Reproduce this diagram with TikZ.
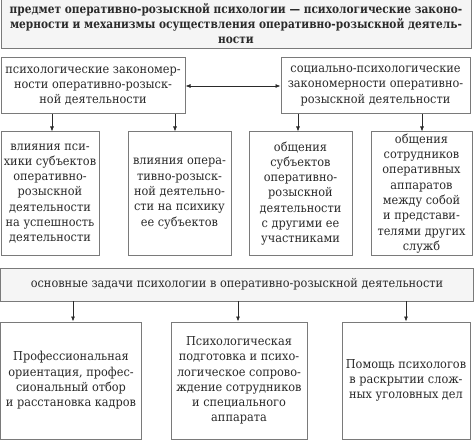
\documentclass[tikz,border=0pt]{standalone}
\usepackage{fontspec}
\setmainfont[FakeStretch=0.92, BoldFeatures={FakeStretch=0.86}]{DejaVu Serif}
\usetikzlibrary{arrows.meta}
\definecolor{boxline}{HTML}{7A7A7A}
\definecolor{txt}{HTML}{2A2A2A}
\definecolor{lightfill}{HTML}{F5F5F5}
\tikzset{
  box/.style={draw=boxline, line width=1pt, fill=white, align=center, inner sep=0pt,
    text=txt, font=\fontsize{12.3}{15.3}\selectfont},
  headbox/.style={box, fill=lightfill},
  arr/.style={draw=txt, line width=0.7pt, -{Latex[length=5pt,width=4pt]}},
  darr/.style={draw=txt, line width=0.7pt, {Latex[length=5pt,width=4pt]}-{Latex[length=5pt,width=4pt]}},
}
\begin{document}
\begin{tikzpicture}[x=1pt,y=-1pt]
\useasboundingbox (0,0) rectangle (474,441);
\begin{scope}
\clip (0,0) rectangle (474,441);
\node[headbox, minimum width=470pt, minimum height=51pt, font=\fontsize{12.3}{15.3}\selectfont\bfseries] (top) at (236,23.5)
 {предмет оперативно-розыскной психологии — психологические законо-\\мерности и механизмы осуществления оперативно-розыскной деятель-\\ности};
\end{scope}
\node[box, minimum width=184pt, minimum height=56pt] (L) at (93,86)
 {психологические закономер-\\ности оперативно-розыск-\\ной деятельности};
\node[box, minimum width=189pt, minimum height=56pt] (R) at (375.5,86)
 {социально-психологические\\закономерности оперативно-\\розыскной деятельности};
\draw[darr] (L.east) -- (R.west);
\node[box, minimum width=98pt, minimum height=123pt] (b1) at (50,193.5)
 {влияния пси-\\хики субъектов\\оперативно-\\розыскной\\деятельности\\на успешность\\деятельности};
\node[box, minimum width=103pt, minimum height=123pt] (b2) at (179.5,193.5)
 {влияния опера-\\тивно-розыск-\\ной деятельно-\\сти на психику\\ее субъектов};
\node[box, minimum width=103pt, minimum height=123pt] (b3) at (300.5,193.5)
 {общения\\субъектов\\оперативно-\\розыскной\\деятельности\\с другими ее\\участниками};
\node[box, minimum width=101pt, minimum height=123pt] (b4) at (421.5,193.5)
 {общения\\сотрудников\\оперативных\\аппаратов\\между собой\\и представи-\\телями других\\служб};
\coordinate (a1) at (52,114);
\coordinate (a2) at (175,114);
\coordinate (a3) at (298,114);
\coordinate (a4) at (422,114);
\draw[arr] (a1) -- (a1 |- b1.north);
\draw[arr] (a2) -- (a2 |- b2.north);
\draw[arr] (a3) -- (a3 |- b3.north);
\draw[arr] (a4) -- (a4 |- b4.north);
\node[headbox, minimum width=473pt, minimum height=33pt] (tasks) at (237,284.5)
 {основные задачи психологии в оперативно-розыскной деятельности};
\node[box, minimum width=141pt, minimum height=117pt] (c1) at (71,380.5)
 {Профессиональная\\ориентация, профес-\\сиональный отбор\\и расстановка кадров};
\node[box, minimum width=136pt, minimum height=117pt] (c2) at (239,380.5)
 {Психологическая\\подготовка и психо-\\логическое сопрово-\\ждение сотрудников\\и специального\\аппарата};
\node[box, minimum width=128pt, minimum height=117pt] (c3) at (406,380.5)
 {Помощь психологов\\в раскрытии слож-\\ных уголовных дел};
\coordinate (t1) at (73,301);
\coordinate (t2) at (238,301);
\coordinate (t3) at (406,301);
\draw[arr] (t1) -- (t1 |- c1.north);
\draw[arr] (t2) -- (t2 |- c2.north);
\draw[arr] (t3) -- (t3 |- c3.north);
\end{tikzpicture}
\end{document}
